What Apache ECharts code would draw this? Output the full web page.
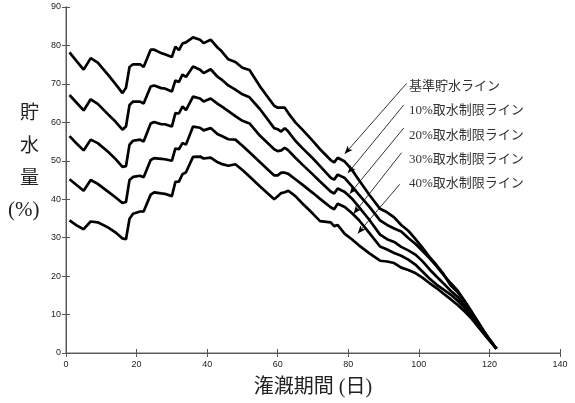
<!DOCTYPE html>
<html><head><meta charset="utf-8">
<script src="https://cdn.jsdelivr.net/npm/echarts@6/dist/echarts.min.js"></script>
<style>html,body{margin:0;padding:0;background:#fff}#c{width:575px;height:403px}</style>
</head><body><div id="c"></div>
<script>
const days = [1,3,5,7,9,12,14,16,17,18,19,21,22,24,25,27,28,30,31,32,33,34,36,38,39,41,43,44,46,48,50,52,55,59,60,61,62,63,65,67,70,72,75,76,77,79,81,83,86,89,91,93,95,97,99,101,103,105,107,109,111,113,115,117,119,122];
const base = [78.2,75.9,73.7,76.7,75.5, 72.3,70.0,67.6,69.0,74.4, 75.1,75.1,74.4,78.9,78.9, 78.0,77.7,77.0,79.7,78.8, 80.5,80.8,82.1,81.5,80.6, 81.5,79.4,78.6,76.4,75.7, 74.2,73.6,69.3,64.3,63.8, 63.8,63.8,62.4,60.0,58.1, 55.1,53.0,50.2,49.6,50.8, 49.8,47.7,45.0,41.1,37.5, 36.6,35.3,33.3,31.8,29.7, 27.4,25.0,22.9,20.5,17.6, 15.8,13.3,10.5,7.6,4.8, 1.1];
const lim10 = [67.1,65.1,63.1,66.0,64.8, 62.0,60.2,58.1,58.9,64.5, 65.4,65.4,64.9,69.3,69.6, 68.9,68.8,68.0,70.9,70.5, 72.4,71.8,74.5,73.7,72.8, 73.8,71.8,71.2,69.6,68.5, 67.3,66.5,63.4,58.5,58.2, 57.6,58.5,57.6,55.2,53.3, 50.6,48.6,45.6,45.1,46.4, 45.5,43.4,41.2,38.0,34.5, 33.3,32.4,31.6,29.9,28.4, 26.6,24.7,22.6,20.3,18.2, 16.2,13.5,10.7,7.8,4.9, 1.1];
const lim20 = [56.4,54.5,52.7,55.5,54.6, 52.3,50.5,48.4,48.6,54.2, 55.2,55.5,55.0,59.7,60.1, 59.5,59.5,58.9,62.4,62.3, 64.1,63.2,66.7,66.2,65.4, 66.2,64.8,64.2,62.9,61.6, 60.4,59.7,56.5,53.0,52.5, 52.7,53.4,52.7,50.8,49.0, 46.4,44.6,42.0,41.5,42.8, 41.9,40.2,38.0,34.6,30.8, 29.6,28.9,27.6,26.7,25.6, 23.9,21.8,19.9,18.1,16.2, 14.6,12.3,9.8,7.2,4.6, 1.1];
const lim30 = [45.2,43.7,42.2,45.0,44.0, 41.9,40.5,39.0,39.3,45.0, 45.8,46.1,45.7,50.2,50.7, 50.5,50.4,50.0,53.2,53.0, 54.6,54.2,58.9,58.6,57.9, 58.5,56.9,56.5,55.6,55.5, 53.9,52.2,49.6,46.2,46.2, 46.9,46.9,46.6,45.2,43.8, 41.6,40.1,37.9,37.4,38.8, 38.0,36.4,34.6,31.2,27.7, 26.9,26.0,25.3,24.3,23.0, 21.2,19.4,17.8,16.5,15.2, 13.6,11.7,9.4,7.0,4.5, 1.1];
const lim40 = [34.5,33.2,32.2,34.2,34.0, 32.6,31.4,29.8,29.6,34.9, 36.2,36.8,36.8,41.2,41.8, 41.5,41.4,40.8,44.5,44.6, 46.5,47.0,51.0,51.1,50.6, 50.8,49.6,49.2,48.7,49.1, 47.6,45.9,43.3,40.0,40.8, 41.6,41.8,42.2,40.8,38.9, 36.2,34.3,34.0,33.0,33.3, 31.0,29.6,28.0,25.9,24.0, 23.8,23.4,22.2,21.6,20.8, 19.6,18.2,16.9,15.4,14.0, 12.5,10.8,8.9,6.6,4.3, 1.1];
const seriesNames = ['基準貯水ライン','10%取水制限ライン','20%取水制限ライン','30%取水制限ライン','40%取水制限ライン'];
const xTicks = [0,20,40,60,80,100,120,140];
const yTicks = [0,10,20,30,40,50,60,70,80,90];
// arrow start (near label) and tip (near line), in data units
const arrowFrom = [[96.5,70.1],[95.7,64.5],[95.7,58.5],[95.1,52.1],[94.6,43.9]];
const arrowTo = [[79.0,51.8],[79.9,46.8],[80.4,41.4],[81.5,36.2],[82.7,31.1]];

const allValues = [base, lim10, lim20, lim30, lim40];
const serifFont = '"Liberation Serif","Noto Sans CJK JP",serif';

const series = allValues.map((vals, i) => ({
  name: seriesNames[i], type: 'line', xAxisIndex: 0, yAxisIndex: 0,
  data: days.map((d, k) => [d, vals[k]]),
  showSymbol: false, symbol: 'none', smooth: false,
  lineStyle: {color: '#000', width: 2.7}, z: 3,
  markLine: {
    silent: true, symbol: ['none', 'arrow'], symbolSize: 8, precision: 2,
    lineStyle: {color: '#000', width: 0.8, type: 'solid'}, label: {show: false},
    itemStyle: {color: '#000'},
    data: [[{coord: arrowFrom[i], symbol: 'none'}, {coord: arrowTo[i], symbol: 'arrow', symbolSize: [5, 8]}]]
  }
}));

const chart = echarts.init(document.getElementById('c'), null, {renderer: 'canvas'});
const axisLabelStyle = {color: '#222', fontSize: 9, fontFamily: 'Liberation Sans, Arial, sans-serif'};
chart.setOption({
  animation: false,
  grid: {left: 66, top: 7, right: 15, bottom: 46, containLabel: false},
  xAxis: [
    {type: 'value', min: xTicks[0], max: xTicks[xTicks.length-1], interval: 20, position: 'bottom',
     axisLine: {lineStyle: {color: '#999', width: 1.6}},
     axisTick: {inside: true, length: 4, lineStyle: {color: '#555'}},
     axisLabel: Object.assign({margin: 7}, axisLabelStyle), splitLine: {show: false},
     name: '潅漑期間 (日)', nameLocation: 'middle', nameGap: 25,
     nameTextStyle: {fontSize: 20, color: '#222', fontFamily: serifFont}},
    {type: 'value', min: xTicks[0], max: xTicks[xTicks.length-1], interval: 20, position: 'top',
     axisLine: {show: true, lineStyle: {color: '#444', width: 0.8}},
     axisTick: {inside: true, length: 4, lineStyle: {color: '#555'}},
     axisLabel: {show: false}, splitLine: {show: false}}
  ],
  yAxis: [
    {type: 'value', min: yTicks[0], max: yTicks[yTicks.length-1], interval: 10, position: 'left',
     axisLine: {show: true, lineStyle: {color: '#999', width: 1.6}},
     axisTick: {show: true, inside: true, length: 4, lineStyle: {color: '#555'}},
     axisLabel: Object.assign({margin: 5}, axisLabelStyle), splitLine: {show: false}},
    {type: 'value', min: yTicks[0], max: yTicks[yTicks.length-1], interval: 10, position: 'right',
     axisLine: {show: true, lineStyle: {color: '#444', width: 0.8}},
     axisTick: {show: true, inside: true, length: 4, lineStyle: {color: '#555'}},
     axisLabel: {show: false}, splitLine: {show: false}}
  ],
  series: series,
  graphic: [
    {type: 'text', left: 20, top: 105, style: {text: '貯', font: '19px ' + serifFont, fill: '#222'}},
    {type: 'text', left: 20, top: 138, style: {text: '水', font: '19px ' + serifFont, fill: '#222'}},
    {type: 'text', left: 20, top: 170, style: {text: '量', font: '19px ' + serifFont, fill: '#222'}},
    {type: 'text', left: 8, top: 200, style: {text: '(%)', font: '21px ' + serifFont, fill: '#222'}}
  ].concat(seriesNames.map((n, i) => ({
    type: 'text', left: 409, top: [80, 104, 129, 153, 177][i],
    style: {text: n, font: '13px ' + serifFont, fill: '#333'}
  })))
});
</script></body></html>
